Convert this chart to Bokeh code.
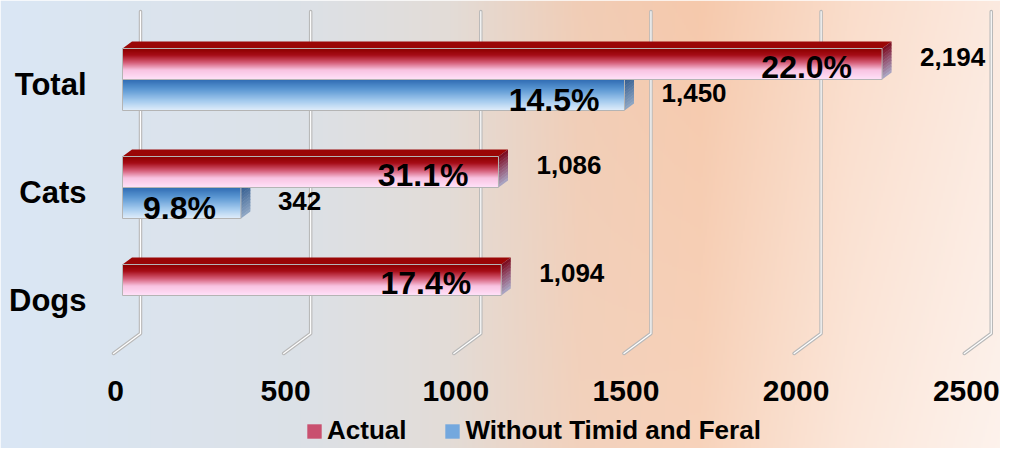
import numpy as np
from bokeh.plotting import figure
from bokeh.models import Range1d, ColumnDataSource, Legend, LegendItem
from bokeh.core.properties import value
from bokeh.embed import file_html
from bokeh.resources import INLINE

# ---------------- data ----------------
categories = ["Total", "Cats", "Dogs"]
actual = [2194, 1086, 1094]
without = [1450, 342, None]
actual_pct = ["22.0%", "31.1%", "17.4%"]
without_pct = ["14.5%", "9.8%", None]
x_ticks = [0, 500, 1000, 1500, 2000, 2500]
series_names = ["Actual", "Without Timid and Feral"]

# ---------------- layout / style ----------------
W, H = 1000, 448
X0 = 122.0          # canvas px of value 0 on the bar front plane
S = 0.3462          # px per unit (bars)
XW0 = 115.0         # canvas px of value 0 on the floor front edge (tick labels)
SW = 0.3403         # px per unit on the wall / floor
BAR_H = 31
DX, DY = 9.5, 7
GROUP0, GROUP_STEP = 79, 108
FONT = value("Liberation Sans")


def du(px):
    return px / S


def dw(px):
    return px / SW


def Y(cy):
    return H - cy


def grad(stops, t):
    ts = [s[0] for s in stops]
    cols = [s[1] for s in stops]
    rgb = [int(round(np.interp(t, ts, [c[k] for c in cols]))) for k in range(3)]
    return "#%02x%02x%02x" % tuple(rgb)


RED_FRONT = [(0, (140, 0, 0)), (0.2, (165, 12, 22)), (0.45, (212, 92, 118)),
             (0.7, (248, 195, 225)), (1, (255, 224, 248))]
BLUE_FRONT = [(0, (50, 110, 180)), (0.3, (90, 150, 210)), (0.7, (165, 203, 238)),
              (1, (222, 236, 250))]
RED_SIDE = [(0, (125, 15, 35)), (0.5, (150, 90, 120)), (1, (168, 162, 192))]
BLUE_SIDE = [(0, (55, 95, 145)), (1, (140, 165, 195))]
RED_TOP = "#9a0606"
BLUE_TOP = "#3d78b8"

p = figure(width=W, height=H,
           x_range=Range1d(-X0 / S, (W - X0) / S),
           y_range=Range1d(0, H),
           x_axis_location=None, y_axis_location=None,
           output_backend="svg", toolbar_location=None,
           min_border=0)
p.grid.visible = False
p.outline_line_color = None
p.extra_x_ranges = {"wall": Range1d(-XW0 / SW, (W - XW0) / SW)}

# ---------------- background gradient ----------------
bw, bh = 500, 224
tx = (np.arange(bw) + 0.5) / bw
ty = (np.arange(bh) + 0.5) / bh
st = [0.0, 0.3, 0.45, 0.58, 0.7, 0.85, 1.0]
sc = np.array([(218, 231, 245), (220, 225, 231), (227, 220, 215), (241, 205, 182),
               (246, 201, 172), (250, 221, 203), (252, 234, 224)], dtype=float)
base = np.stack([np.interp(tx, st, sc[:, k]) for k in range(3)], -1)
k = 0.4 * np.clip((tx - 0.45) / 0.55, 0, 1)
col = base[None, :, :] + (255 - base[None, :, :]) * (k[None, :, None] * ty[:, None, None])
col = col[::-1]  # row 0 at the bottom
img = np.empty((bh, bw), dtype=np.uint32)
view = img.view(dtype=np.uint8).reshape((bh, bw, 4))
view[..., :3] = np.clip(col, 0, 255).astype(np.uint8)
view[..., 3] = 255
p.image_rgba(image=[img], x=-X0 / S, y=0, dw=W / S, dh=H)

# ---------------- gridlines (back wall + floor) ----------------
gx = [[v + dw(25), v + dw(25), v - dw(2)] for v in x_ticks]
gy = [[Y(11), Y(333), Y(353)] for v in x_ticks]
p.multi_line(xs=gx, ys=gy, x_range_name="wall", line_color="#b9b9b9", line_width=3.5,
             line_cap="round", line_join="round")
p.multi_line(xs=gx, ys=gy, x_range_name="wall", line_color="#ffffff", line_width=1.2,
             line_cap="round", line_join="round")


# ---------------- bars ----------------
def draw_series(vals, below, front, side, topc):
    q = dict(left=[], right=[], top=[], bottom=[], color=[])
    sides = dict(xs=[], ys=[], color=[])
    tops = dict(xs=[], ys=[])
    outl = dict(left=[], right=[], top=[], bottom=[])
    for i, v in enumerate(vals):
        if v is None:
            continue
        c = GROUP0 + GROUP_STEP * i
        t0 = c if below else c - BAR_H
        for kk in range(BAR_H):
            q["left"].append(0)
            q["right"].append(v)
            q["top"].append(Y(t0 + kk))
            q["bottom"].append(Y(t0 + kk + (1.6 if kk < BAR_H - 1 else 1)))
            q["color"].append(grad(front, kk / (BAR_H - 1)))
        n = 10
        for j in range(n):
            y0 = t0 + BAR_H * j / n
            y1 = t0 + BAR_H * (j + 1) / n + (0.6 if j < n - 1 else 0)
            sides["xs"].append([v, v + du(DX), v + du(DX), v])
            sides["ys"].append([Y(y0), Y(y0 - DY), Y(y1 - DY), Y(y1)])
            sides["color"].append(grad(side, j / (n - 1)))
        tops["xs"].append([0, v, v + du(DX), du(DX)])
        tops["ys"].append([Y(t0), Y(t0), Y(t0 - DY), Y(t0 - DY)])
        outl["left"].append(0)
        outl["right"].append(v)
        outl["top"].append(Y(t0))
        outl["bottom"].append(Y(t0 + BAR_H))
    p.patches(xs="xs", ys="ys", source=ColumnDataSource(tops), fill_color=topc, line_color=None)
    p.patches(xs="xs", ys="ys", source=ColumnDataSource(sides), fill_color="color", line_color=None)
    p.quad(left="left", right="right", top="top", bottom="bottom",
           source=ColumnDataSource(q), fill_color="color", line_color=None)
    p.quad(left="left", right="right", top="top", bottom="bottom",
           source=ColumnDataSource(outl), fill_alpha=0, line_color="#b4b4b4", line_width=1)


draw_series(without, True, BLUE_FRONT, BLUE_SIDE, BLUE_TOP)
draw_series(actual, False, RED_FRONT, RED_SIDE, RED_TOP)

# ---------------- labels ----------------
val_x, val_y, val_t = [], [], []
pct_x, pct_y, pct_t = [], [], []
for i in range(len(categories)):
    c = GROUP0 + GROUP_STEP * i
    a = actual[i]
    val_x.append(a + du(38)); val_y.append(Y(c - BAR_H + 8)); val_t.append(f"{a:,}")
    pct_x.append(a - du(30)); pct_y.append(Y(c - BAR_H / 2 + 2.5)); pct_t.append(actual_pct[i])
    w = without[i]
    if w is not None:
        val_x.append(w + du(37)); val_y.append(Y(c + 13)); val_t.append(f"{w:,}")
        pct_x.append(w - du(25)); pct_y.append(Y(c + BAR_H / 2 + 4.5)); pct_t.append(without_pct[i])

p.text(x=val_x, y=val_y, text=val_t, text_font=FONT, text_font_style="bold",
       text_font_size="26px", text_color="#000000", text_align="left", text_baseline="middle")
p.text(x=pct_x, y=pct_y, text=pct_t, text_font=FONT, text_font_style="bold",
       text_font_size="32px", text_color="#000000", text_align="right", text_baseline="middle")

cat_y = [Y(GROUP0 + GROUP_STEP * i + 5) for i in range(len(categories))]
p.text(x=[-du(36)] * len(categories), y=cat_y, text=categories, text_font=FONT,
       text_font_style="bold", text_font_size="31px", text_color="#000000",
       text_align="right", text_baseline="middle")

p.text(x=x_ticks, y=[Y(390)] * len(x_ticks), text=[str(v) for v in x_ticks],
       x_range_name="wall", text_font=FONT, text_font_style="bold", text_font_size="30px",
       text_color="#000000", text_align="center", text_baseline="middle")

# ---------------- legend ----------------
r_a = p.quad(left=[0], right=[0], top=[0], bottom=[0], fill_color="#c9506f", line_color=None)
r_w = p.quad(left=[0], right=[0], top=[0], bottom=[0], fill_color="#74a8de", line_color=None)
legend = Legend(items=[LegendItem(label=series_names[0], renderers=[r_a]),
                       LegendItem(label=series_names[1], renderers=[r_w])],
                orientation="horizontal", location=(305, 2),
                background_fill_alpha=0, border_line_alpha=0,
                padding=0, margin=0, spacing=37,
                glyph_width=18, glyph_height=18, label_standoff=4,
                label_text_font="Liberation Sans", label_text_font_style="bold",
                label_text_font_size="26px", label_text_color="#000000")
p.add_layout(legend)

open("out.html", "w").write(file_html(p, INLINE))
